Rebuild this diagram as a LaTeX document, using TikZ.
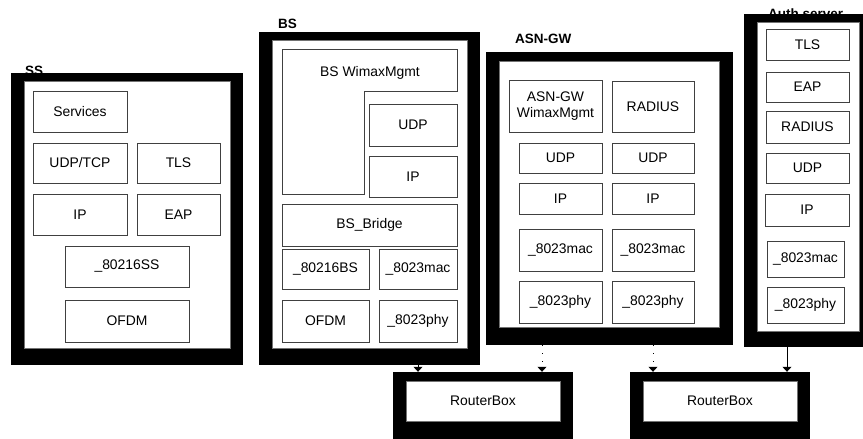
\documentclass[tikz,border=0pt]{standalone}
\usepackage{fontspec}
\setmainfont{Liberation Sans}
\usetikzlibrary{arrows.meta}
\newcommand\bx[6]{\node[box, minimum width={#3-#2}, minimum height={#5-#4}] (#1) at ({(#2+#3)/2},{(#4+#5)/2}) {#6};}
\newcommand\outerbox[9]{%
  \node[outerblk, minimum width={#3-#2}, minimum height={#5-#4}] (#1) at ({(#2+#3)/2},{(#4+#5)/2}) {};
  \node[innerwht, minimum width={#7-#6}, minimum height={#9-#8}] (#1in) at ({(#6+#7)/2},{(#8+#9)/2}) {};}
\begin{document}
\begin{tikzpicture}[x=1pt,y=-1pt,
  box/.style={draw=black!75, line width=0.9pt, fill=white, inner sep=0pt, align=center,
     font=\fontsize{13.9}{16}\selectfont},
  outerblk/.style={fill=black, draw=none, inner sep=0pt},
  innerwht/.style={fill=white, draw=black!55, line width=0.6pt, inner sep=0pt},
  grp/.style={anchor=base west, inner sep=0pt, font=\fontsize{13.5}{16}\selectfont\bfseries},
  arr/.style={line width=0.8pt, -{Triangle[width=9pt,length=5pt]}},
  dotarr/.style={arr, dash pattern=on 1pt off 7pt}]
\useasboundingbox (0,0) rectangle (863,439);
% group labels (partly hidden by the frames)
\node[grp] (lss) at (25,75) {SS};
\node[grp] (lbs) at (278,28) {BS};
\node[grp] (lasn) at (515,43) {ASN-GW};
\node[grp] (lauth) at (768,19) {Auth server};
% frames
\outerbox{ss}{11}{243}{73}{365}{24}{230}{81}{348}
\outerbox{bs}{259}{480}{32}{365}{272}{467}{40}{348}
\outerbox{asn}{486}{733}{52}{345}{499}{719}{61}{327}
\outerbox{auth}{744}{863}{14}{347}{757}{859}{22}{331}
\outerbox{ra}{393}{573}{372}{439}{406}{560}{381}{421}
\outerbox{rb}{630}{810}{372}{439}{643}{797}{381}{421}
\node[font=\fontsize{13.9}{16}\selectfont] (rat) at (rain) {RouterBox};
\node[font=\fontsize{13.9}{16}\selectfont] (rbt) at (rbin) {RouterBox};
% SS stack
\bx{ssserv}{33}{127}{91}{132}{Services}
\bx{ssudp}{33}{127}{143}{183}{UDP/TCP}
\bx{sstls}{137}{220}{143}{183}{TLS}
\bx{ssip}{33}{127}{194}{235}{IP}
\bx{sseap}{137}{220}{194}{235}{EAP}
\bx{ss802}{65}{189}{246}{287}{\_80216SS}
\bx{ssofdm}{65}{189}{300}{342}{OFDM}
% BS stack
\draw[draw=black!75, line width=0.9pt, fill=white] (282,49) -- (457,49) -- (457,91) -- (364,91) -- (364,194) -- (282,194) -- cycle;
\node[font=\fontsize{13.9}{16}\selectfont] (bsmgmt) at (370,73) {BS WimaxMgmt};
\bx{bsudp}{369}{457}{104}{146}{UDP}
\bx{bsip}{369}{457}{156}{197}{IP}
\bx{bsbr}{282}{457}{204}{246}{BS\_Bridge}
\bx{bs802}{282}{369}{249}{289}{\_80216BS}
\bx{bsmac}{379}{457}{249}{289}{\_8023mac}
\bx{bsofdm}{282}{369}{300}{342}{OFDM}
\bx{bsphy}{379}{457}{300}{342}{\_8023phy}
% ASN-GW stack
\bx{asnmgmt}{509}{602}{80}{132}{ASN-GW\\WimaxMgmt}
\bx{asnrad}{612}{694}{81}{132}{RADIUS}
\bx{asnudpa}{519}{602}{143}{173}{UDP}
\bx{asnudpb}{612}{694}{143}{173}{UDP}
\bx{asnipa}{519}{602}{183}{214}{IP}
\bx{asnipb}{612}{694}{183}{214}{IP}
\bx{asnmaca}{519}{602}{229}{271}{\_8023mac}
\bx{asnmacb}{612}{694}{229}{271}{\_8023mac}
\bx{asnphya}{519}{602}{281}{323}{\_8023phy}
\bx{asnphyb}{612}{694}{281}{323}{\_8023phy}
% Auth server stack
\bx{autls}{766}{849}{29}{60}{TLS}
\bx{aueap}{766}{849}{72}{102}{EAP}
\bx{aurad}{766}{849}{111}{143}{RADIUS}
\bx{auudp}{766}{849}{153}{183}{UDP}
\bx{auip}{765}{849}{194}{226}{IP}
\bx{aumac}{767}{844}{241}{277}{\_8023mac}
\bx{auphy}{767}{844}{287}{323}{\_8023phy}
% connectors
\coordinate (c1) at (418,0);
\coordinate (c2) at (542,0);
\coordinate (c3) at (653,0);
\coordinate (c4) at (787,0);
\draw[arr] (bs.south -| c1) -- (ra.north -| c1);
\draw[dotarr] (asn.south -| c2) -- (ra.north -| c2);
\draw[dotarr] (asn.south -| c3) -- (rb.north -| c3);
\draw[arr] (auth.south -| c4) -- (rb.north -| c4);
\end{tikzpicture}
\end{document}
